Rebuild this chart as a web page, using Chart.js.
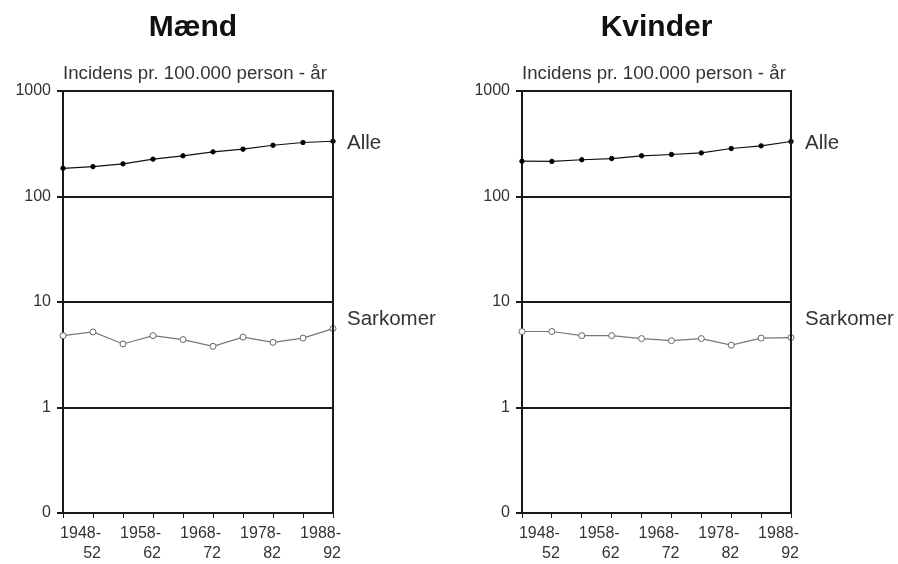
<!DOCTYPE html>
<html>
<head>
<meta charset="utf-8">
<script src="https://cdn.jsdelivr.net/npm/chart.js@4"></script>
<style>
  body { margin: 0; background: #fff; }
  .panel { position: absolute; top: 0; width: 449px; height: 564px; }
</style>
</head>
<body>
<div class="panel" style="left:0"><canvas id="maend" width="449" height="564"></canvas></div>
<div class="panel" style="left:449px"><canvas id="kvinder" width="449" height="564"></canvas></div>
<script>
// five-year periods; every second one gets a label under the axis
const perioder = ['1943-47', '1948-52', '1953-57', '1958-62', '1963-67',
                  '1968-72', '1973-77', '1978-82', '1983-87', '1988-92'];
const maendAlle = [185, 192, 204, 226, 243, 265, 281, 306, 325, 334];
const maendSarkomer = [4.8, 5.2, 4.0, 4.8, 4.4, 3.8, 4.65, 4.15, 4.55, 5.6];
const kvinderAlle = [216, 215, 223, 229, 243, 250, 259, 285, 302, 332];
const kvinderSarkomer = [5.25, 5.25, 4.8, 4.8, 4.5, 4.3, 4.5, 3.9, 4.55, 4.6];

const yTicks = [0.1, 1, 10, 100, 1000];
const yTickLabels = ['0', '1', '10', '100', '1000'];
const yCaption = 'Incidens pr. 100.000 person - år';
const seriesNames = ['Alle', 'Sarkomer'];
// where the series names sit on the y scale
const seriesLabelAt = [318, 6.8];

const FONT = '"Liberation Sans", Arial, Helvetica, sans-serif';
const INK = '#1a1a1a';

// title, caption over the plot, right frame edge and series names
const panelText = {
  id: 'panelText',
  afterDraw(chart, args, opts) {
    const { ctx, chartArea: a, scales: { y } } = chart;
    ctx.save();
    ctx.strokeStyle = INK;
    ctx.lineWidth = 2;
    ctx.beginPath();
    ctx.moveTo(a.right, a.top - 1);
    ctx.lineTo(a.right, a.bottom + 1);
    ctx.stroke();

    ctx.fillStyle = '#111';
    ctx.textAlign = 'center';
    ctx.textBaseline = 'middle';
    ctx.font = 'bold 30px ' + FONT;
    ctx.fillText(opts.title, (a.left + a.right) / 2 - opts.titleShift, 28);

    ctx.fillStyle = '#333';
    ctx.textAlign = 'left';
    ctx.textBaseline = 'alphabetic';
    ctx.font = '18.7px ' + FONT;
    ctx.fillText(yCaption, a.left, 79);

    ctx.font = '20.5px ' + FONT;
    ctx.textBaseline = 'middle';
    chart.data.datasets.forEach((ds, i) => {
      ctx.fillText(ds.label, a.right + 14, y.getPixelForValue(seriesLabelAt[i]));
    });
    ctx.restore();
  }
};

function makePanel(id, title, alle, sarkomer, yWidth, padRight, titleShift) {
  return new Chart(document.getElementById(id), {
    type: 'line',
    data: {
      labels: perioder,
      datasets: [{
        label: seriesNames[0],
        data: alle,
        borderColor: '#111',
        borderWidth: 1.2,
        pointRadius: 2.2,
        pointBackgroundColor: '#000',
        pointBorderColor: '#000',
        pointBorderWidth: 1,
        tension: 0,
        clip: false
      }, {
        label: seriesNames[1],
        data: sarkomer,
        borderColor: '#777',
        borderWidth: 1.2,
        pointRadius: 3,
        pointBackgroundColor: '#fff',
        pointBorderColor: '#666',
        pointBorderWidth: 1,
        tension: 0,
        clip: false
      }]
    },
    options: {
      responsive: false,
      animation: false,
      layout: { padding: { top: 91, right: padRight, bottom: 0, left: 0 } },
      plugins: {
        legend: { display: false },
        tooltip: { enabled: false },
        panelText: { title: title, titleShift: titleShift }
      },
      scales: {
        x: {
          type: 'category',
          offset: false,
          grid: { drawOnChartArea: false, drawTicks: true, tickLength: 5, color: INK, lineWidth: 1 },
          border: { display: true, color: INK, width: 2 },
          ticks: {
            autoSkip: false,
            maxRotation: 0,
            align: 'end',
            labelOffset: 8,
            padding: 6,
            color: '#333',
            font: { family: FONT, size: 16, lineHeight: 1.25 },
            callback(value, index) {
              const p = perioder[index];
              return index % 2 === 1 ? [p.slice(0, 5), p.slice(5)] : '';
            }
          },
          afterFit(scale) { scale.height = 51; }
        },
        y: {
          type: 'logarithmic',
          min: 0.1,
          max: 1000,
          afterBuildTicks(scale) {
            scale.ticks = yTicks.map(v => ({ value: v }));
          },
          grid: { color: INK, lineWidth: 2, tickLength: 6 },
          border: { display: true, color: INK, width: 2 },
          ticks: {
            padding: 6,
            color: '#333',
            font: { family: FONT, size: 16 },
            callback(value) {
              const i = yTicks.indexOf(value);
              return i >= 0 ? yTickLabels[i] : '';
            }
          },
          afterFit(scale) { scale.width = yWidth; }
        }
      }
    },
    plugins: [panelText]
  });
}

makePanel('maend', 'Mænd', maendAlle, maendSarkomer, 63, 116, 5);
makePanel('kvinder', 'Kvinder', kvinderAlle, kvinderSarkomer, 73, 107, 0);
</script>
</body>
</html>
